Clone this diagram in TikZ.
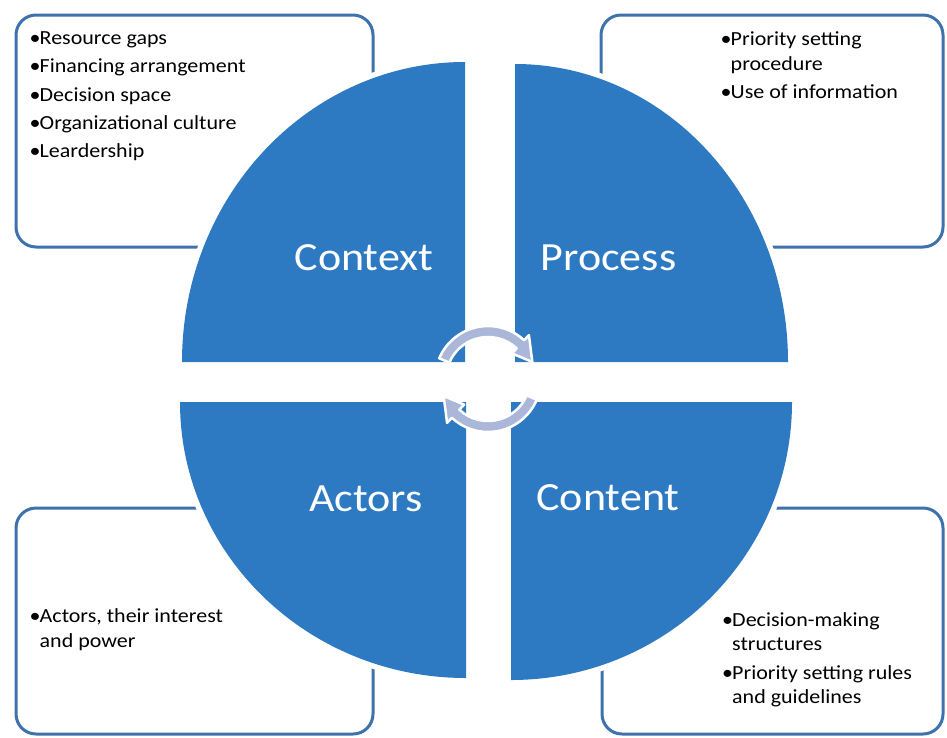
\documentclass[tikz,border=0pt]{standalone}
\usepackage{fontspec}
\setmainfont{Carlito}[FakeStretch=1.1]
\usetikzlibrary{calc}
\definecolor{quadblue}{RGB}{46,122,194}
\definecolor{boxblue}{RGB}{62,114,172}
\definecolor{arrowcol}{RGB}{170,183,217}
\tikzset{
  infobox/.style={draw=boxblue, line width=3pt, rounded corners=20pt, fill=white, inner sep=0pt},
  quad/.style={fill=quadblue, preaction={draw=white, line width=11pt}},
  bl/.style={anchor=base west, inner sep=0pt, font=\fontsize{20}{24}\selectfont, text=black},
  lab/.style={anchor=base, inner sep=0pt, font=\fontsize{40}{48}\selectfont, text=white},
  cyc/.style={fill=arrowcol, draw=white, line width=2.5pt, line join=round}
}
\newcommand{\bul}{\makebox[10pt][l]{•}}
\newcommand{\ind}{\hspace*{10pt}}
\begin{document}
\begin{tikzpicture}[x=1pt,y=-1pt]
\useasboundingbox (0,0) rectangle (947,737);
% boxes
\node[infobox, minimum width=357pt, minimum height=232pt] (boxTL) at (194.5,131) {};
\node[infobox, minimum width=342pt, minimum height=232pt] (boxTR) at (772,131) {};
\node[infobox, minimum width=357pt, minimum height=226pt] (boxBL) at (194.5,621) {};
\node[infobox, minimum width=341pt, minimum height=226pt] (boxBR) at (772.5,621) {};
% texts
\node[bl] (tl1) at (29.5,44) {\bul Resource gaps};
\node[bl] (tl2) at (29.5,72.5) {\bul Financing arrangement};
\node[bl] (tl3) at (29.5,101) {\bul Decision space};
\node[bl] (tl4) at (29.5,129) {\bul Organizational culture};
\node[bl] (tl5) at (29.5,157) {\bul Leardership};
\node[bl] (tr1) at (720.5,45) {\bul Priority setting};
\node[bl] (tr2) at (720.5,70) {\ind procedure};
\node[bl] (tr3) at (720.5,98) {\bul Use of information};
\node[bl] (bl1) at (29.5,622) {\bul Actors, their interest};
\node[bl] (bl2) at (29.5,647) {\ind and power};
\node[bl] (br1) at (722,626) {\bul Decision-making};
\node[bl] (br2) at (722,650) {\ind structures};
\node[bl] (br3) at (722,679) {\bul Priority setting rules};
\node[bl] (br4) at (722,703) {\ind and guidelines};
% quadrants
\coordinate (cCtx) at (465,362);
\coordinate (cPro) at (515,362);
\coordinate (cCon) at (511,402);
\coordinate (cAct) at (466,402);
\path[quad] (cCtx) -- ++(-283,0) arc[start angle=180, end angle=270, x radius=283, y radius=300] -- cycle;
\path[quad] (cPro) -- ++(0,-298) arc[start angle=270, end angle=360, x radius=273, y radius=298] -- cycle;
\path[quad] (cCon) -- ++(281,0) arc[start angle=0, end angle=90, x radius=281, y radius=278] -- cycle;
\path[quad] (cAct) -- ++(0,276) arc[start angle=90, end angle=180, x radius=286, y radius=276] -- cycle;
% labels
\node[lab] (context) at (364,270) {Context};
\node[lab] (process) at (608.5,270) {Process};
\node[lab] (actors) at (366,511) {Actors};
\node[lab] (content) at (608,510) {Content};
% cycle arrows
\coordinate (cc) at (488,379);
\path[cyc] ($(cc)+(-157:53)$) arc[start angle=-157, end angle=-47, radius=53]
  -- ($(cc)+(-47:60)$) -- ($(cc)+(-21:47.5)$) -- ($(cc)+(-47:35)$)
  -- ($(cc)+(-47:42)$) arc[start angle=-47, end angle=-157, radius=42] -- cycle;
\path[cyc] ($(cc)+(23:53)$) arc[start angle=23, end angle=133, radius=53]
  -- ($(cc)+(133:60)$) -- ($(cc)+(159:47.5)$) -- ($(cc)+(133:35)$)
  -- ($(cc)+(133:42)$) arc[start angle=133, end angle=23, radius=42] -- cycle;
\end{tikzpicture}
\end{document}
